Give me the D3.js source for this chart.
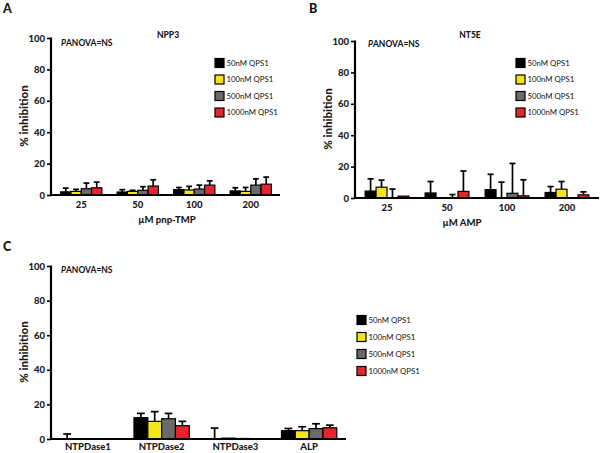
<!DOCTYPE html>
<html><head><meta charset="utf-8">
<script src="https://cdn.jsdelivr.net/npm/d3@7"></script>
<style>body{margin:0;background:#fff}svg{display:block}</style>
</head><body><svg id="c" width="601" height="453"></svg>
<script>
// ---- data ----
const seriesNames = ["50nM QPS1","100nM QPS1","500nM QPS1","1000nM QPS1"];
const seriesColors = ["#000000","#f4e41c","#6a6a6a","#e2262b"];
const yTicks = [0,20,40,60,80,100];

const npp3Categories = ["25","50","100","200"];
const npp3Mean = [[2.0,1.9,3.4,2.6],[2.3,2.3,3.2,2.3],[4.0,3.0,3.8,6.3],[4.6,5.7,6.3,6.9]];
const npp3Err  = [[2.4,1.5,1.4,2.0],[1.3,0.7,2.3,2.5],[3.6,2.3,2.5,4.0],[3.6,4.0,2.7,4.5]];

const nt5eCategories = ["25","50","100","200"];
const nt5eMean = [[4.4,3.2,5.3,3.5],[6.9,0,0,5.6],[0,0,3.0,0],[1.2,4.2,1.4,2.0]];
const nt5eErr  = [[7.8,7.3,9.8,3.8],[4.5,0,10.1,4.9],[5.7,2.2,19.0,0],[0,13.0,10.2,1.9]];

const otherCategories = ["NTPDase1","NTPDase2","NTPDase3","ALP"];
const otherMean = [[0,12.3,0,4.8],[0,10.2,0.5,4.8],[0,11.7,0.3,6.0],[0,7.7,0,6.5]];
const otherErr  = [[2.9,2.5,6.3,1.3],[0,5.6,0,2.3],[0,3.1,0,2.8],[0,2.5,0,1.5]];

const FONT = "Lato, 'Open Sans', sans-serif";
const svg = d3.select("#c");

function panel(o){
  const g = svg.append("g");
  const y = d3.scaleLinear().domain([0,100]).range([o.y0,o.y100]);
  const x = d3.scaleBand().domain(o.cats).range([o.xs,o.xe]);
  const inner = d3.scaleBand().domain(d3.range(seriesNames.length)).range([0,x.bandwidth()*o.groupFrac]);
  const off = (x.bandwidth()-inner.range()[1])/2;
  const bw = inner.bandwidth();
  o.mean.forEach((vals,s)=>{
    vals.forEach((v,i)=>{
      const bx = x(o.cats[i])+off+inner(s);
      const cx = bx+bw/2;
      const e = o.err[s][i];
      if(e>0){
        g.append("line").attr("x1",cx).attr("x2",cx).attr("y1",y(v)).attr("y2",y(v+e))
          .attr("stroke","#000").attr("stroke-width",1.7);
        g.append("line").attr("x1",cx-bw*0.28).attr("x2",cx+bw*0.28).attr("y1",y(v+e)).attr("y2",y(v+e))
          .attr("stroke","#000").attr("stroke-width",1.7);
      }
      if(v>0){
        g.append("rect").attr("x",bx).attr("y",y(v)).attr("width",bw).attr("height",y(0)-y(v))
          .attr("fill",seriesColors[s]).attr("stroke","#000").attr("stroke-width",1.2);
      }
    });
  });
  const ya = d3.axisLeft(y).tickValues(yTicks).tickSize(4).tickPadding(2);
  const yg = g.append("g").attr("transform",`translate(${o.ax},0)`).call(ya);
  yg.select(".domain").remove();
  yg.selectAll(".tick line").attr("stroke","#000").attr("stroke-width",1.6);
  yg.selectAll(".tick text").attr("font-family",FONT).attr("font-weight","900").attr("font-size",9.5).attr("fill","#1a1a1a");
  g.append("line").attr("x1",o.ax).attr("x2",o.ax).attr("y1",o.y100-0.5).attr("y2",o.y0+1)
    .attr("stroke","#000").attr("stroke-width",2.2);
  const xa = d3.axisBottom(x).tickSize(0).tickPadding(o.tickPad);
  const xg = g.append("g").attr("transform",`translate(0,${o.y0})`).call(xa);
  xg.select(".domain").remove();
  xg.selectAll(".tick text").attr("font-family",FONT).attr("font-weight","900").attr("font-size",9.5).attr("fill","#1a1a1a");
  g.append("line").attr("x1",o.ax).attr("x2",o.axEnd).attr("y1",o.y0).attr("y2",o.y0)
    .attr("stroke","#000").attr("stroke-width",2.2);
  g.append("text").attr("transform",`translate(${o.ytX},${o.ytY}) rotate(-90)`).attr("text-anchor","middle")
    .attr("font-family",FONT).attr("font-weight","900").attr("font-size",11.5).attr("fill","#1a1a1a").text("% inhibition");
  if(o.xTitle) g.append("text").attr("x",o.xtX).attr("y",o.xtY).attr("text-anchor","middle")
    .attr("font-family",FONT).attr("font-weight","900").attr("font-size",9.5).attr("fill","#1a1a1a").text(o.xTitle);
  if(o.title) g.append("text").attr("x",o.tX).attr("y",o.tY).attr("text-anchor","middle")
    .attr("font-family",FONT).attr("font-weight","900").attr("font-size",8.5).attr("fill","#1a1a1a").text(o.title);
  const pa = g.append("text").attr("x",o.pX).attr("y",o.pY).attr("font-family",FONT).attr("font-weight","bold")
    .attr("font-size",8.5).attr("fill","#111");
  pa.append("tspan").attr("font-style","italic").text("P");
  pa.append("tspan").text("ANOVA=NS");
  g.append("text").attr("x",o.lX).attr("y",o.lY).attr("font-family",FONT).attr("font-weight","900")
    .attr("font-size",12.5).attr("fill","#111").text(o.letter);
  seriesNames.forEach((n,s)=>{
    const ly = o.legY + s*o.legStep;
    g.append("rect").attr("x",o.legX).attr("y",ly-4.5).attr("width",9).attr("height",9)
      .attr("fill",seriesColors[s]).attr("stroke","#000").attr("stroke-width",1.2);
    g.append("text").attr("x",o.legX+11.5).attr("y",ly+2.7).attr("font-family",FONT).attr("font-size",7.8)
      .attr("fill","#111").text(n);
  });
}

panel({cats:npp3Categories,mean:npp3Mean,err:npp3Err,y0:195,y100:38,xs:53,xe:279,ax:51,axEnd:280,groupFrac:0.73,tickPad:6,
  ytX:28,ytY:116,xTitle:"µM pnp-TMP",xtX:167,xtY:223,title:"NPP3",tX:168,tY:38,pX:61,pY:46,letter:"A",lX:3,lY:13,
  legX:215,legY:63,legStep:16.5});
panel({cats:nt5eCategories,mean:nt5eMean,err:nt5eErr,y0:198,y100:41,xs:357,xe:597,ax:355,axEnd:599,groupFrac:0.73,tickPad:6,
  ytX:332,ytY:119,xTitle:"µM AMP",xtX:462,xtY:226,title:"NT5E",tX:470,tY:38,pX:368,pY:47,letter:"B",lX:309,lY:13,
  legX:516,legY:63,legStep:16.5});
panel({cats:otherCategories,mean:otherMean,err:otherErr,y0:439,y100:266,xs:51,xe:346,ax:51,axEnd:346,groupFrac:0.75,tickPad:4,
  ytX:28,ytY:352,xTitle:null,title:null,pX:61,pY:273,letter:"C",lX:3,lY:251,
  legX:357,legY:320,legStep:17});
</script></body></html>
